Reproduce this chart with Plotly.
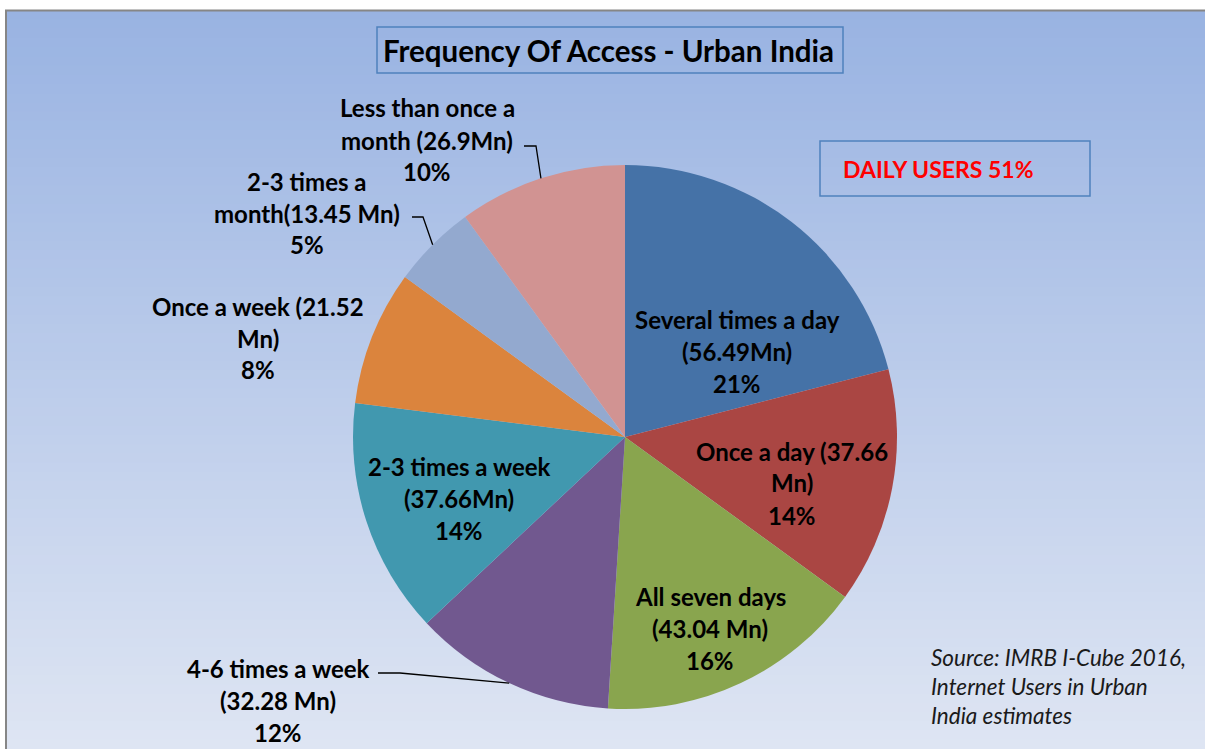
import math
import plotly.graph_objects as go

# ---- data ----
categories = ["Several times a day", "Once a day", "All seven days", "4-6 times a week",
              "2-3 times a week", "Once a week", "2-3 times a month", "Less than once a month"]
users_mn = [56.49, 37.66, 43.04, 32.28, 37.66, 21.52, 13.45, 26.9]
pct_labels = ["21%", "14%", "16%", "12%", "14%", "8%", "5%", "10%"]
label_lines = [
    ["Several times a day", "(56.49Mn)", "21%"],
    ["Once a day (37.66", "Mn)", "14%"],
    ["All seven days", "(43.04 Mn)", "16%"],
    ["4-6 times a week", "(32.28 Mn)", "12%"],
    ["2-3 times a week", "(37.66Mn)", "14%"],
    ["Once a week (21.52", "Mn)", "8%"],
    ["2-3 times a", "month(13.45 Mn)", "5%"],
    ["Less than once a", "month (26.9Mn)", "10%"],
]
colors = ["#4572A7", "#AA4643", "#89A54E", "#71588F", "#4198AF", "#DB843D", "#93A9CF", "#D19392"]
title_text = "Frequency Of Access - Urban India"
callout_text = "DAILY USERS 51%"
source_lines = ["Source: IMRB I-Cube 2016,", "Internet Users in Urban", "India estimates"]

W, H = 1205, 749
FONT = "Lato"

def px(x):
    return x / W

def py(y):
    return 1 - y / H

# pie geometry (pixels)
CX, CY, R = 625, 437, 272

# label centres (pixels) and leader line starts
label_pos = [(737, 351), (792, 483), (710, 628), (278, 700), (459, 498), (258, 338), (307, 213), (427, 140)]
leader_start = {3: (378, 673, 400), 6: (412, 217, 423), 7: (524, 146, 536)}

fig = go.Figure()

fig.add_trace(go.Pie(
    labels=categories, values=users_mn, sort=False, direction="clockwise", rotation=0,
    marker=dict(colors=colors, line=dict(width=0)),
    textinfo="none", hoverinfo="label+value+percent", showlegend=False,
    domain=dict(x=[px(CX - R), px(CX + R)], y=[py(CY + R), py(CY - R)]),
))

shapes = []
# background gradient
top = (153, 179, 226)
bot = (222, 229, 243)
N = 80
y0, y1 = 10, H
for i in range(N):
    t = i / (N - 1)
    c = tuple(round(top[k] + (bot[k] - top[k]) * t) for k in range(3))
    ya = y0 + (y1 - y0) * i / N
    yb = y0 + (y1 - y0) * (i + 1) / N + 1
    shapes.append(dict(type="rect", xref="paper", yref="paper", layer="below",
                       x0=px(6), x1=1, y0=py(min(yb, H)), y1=py(ya),
                       fillcolor="rgb(%d,%d,%d)" % c, line=dict(width=0)))
# chart border
shapes.append(dict(type="path", xref="paper", yref="paper", layer="below",
                   path="M %f,%f L %f,%f L %f,%f" % (px(6), 0, px(6), py(10.5), 1, py(10.5)),
                   line=dict(color="#868686", width=2)))
# title box
shapes.append(dict(type="rect", xref="paper", yref="paper", x0=px(377), x1=px(843), y0=py(73), y1=py(27),
                   line=dict(color="#4F81BD", width=1.5)))
# daily users box
shapes.append(dict(type="rect", xref="paper", yref="paper", x0=px(820), x1=px(1090), y0=py(196), y1=py(141),
                   line=dict(color="#4F81BD", width=1.5)))

# leader lines computed from slice mid-angles
total = sum(users_mn)
cum = 0
mids = []
for v in users_mn:
    mids.append((cum + v / 2) / total)
    cum += v
for i, (sx, sy, kx) in leader_start.items():
    ang = 2 * math.pi * mids[i]
    tx = CX + R * math.sin(ang)
    ty = CY - R * math.cos(ang)
    shapes.append(dict(type="path", xref="paper", yref="paper",
                       path="M %f,%f L %f,%f L %f,%f" % (px(sx), py(sy), px(kx), py(sy), px(tx), py(ty)),
                       line=dict(color="black", width=1.3)))

annotations = []
LS = 32
for lines, (lx, ly) in zip(label_lines, label_pos):
    n = len(lines)
    for j, s in enumerate(lines):
        yy = ly + (j - (n - 1) / 2) * LS
        annotations.append(dict(x=px(lx), y=py(yy), xref="paper", yref="paper", text="<b>%s</b>" % s,
                                showarrow=False, xanchor="center", yanchor="middle",
                                font=dict(family=FONT, size=24, color="black")))

annotations.append(dict(x=px(608), y=py(50), xref="paper", yref="paper",
                        text="<b>%s</b>" % title_text, showarrow=False,
                        xanchor="center", yanchor="middle", font=dict(family=FONT, size=29.5, color="black")))
annotations.append(dict(x=px(841), y=py(169), xref="paper", yref="paper",
                        text="<b>%s</b>" % callout_text, showarrow=False,
                        xanchor="left", yanchor="middle", font=dict(family=FONT, size=23, color="#FF0000")))
for j, s in enumerate(source_lines):
    annotations.append(dict(x=px(929), y=py(657 + 29 * j), xref="paper", yref="paper",
                            text="<i>%s</i>" % s, showarrow=False, xanchor="left", yanchor="middle",
                            font=dict(family=FONT, size=22.5, color="#1A1A1A")))

fig.update_layout(width=W, height=H, margin=dict(l=0, r=0, t=0, b=0),
                  paper_bgcolor="white", plot_bgcolor="white",
                  shapes=shapes, annotations=annotations)

fig.write_html("out.html", config={"displayModeBar": False},
               post_script="document.body.style.margin='0';document.body.style.overflow='hidden';")
